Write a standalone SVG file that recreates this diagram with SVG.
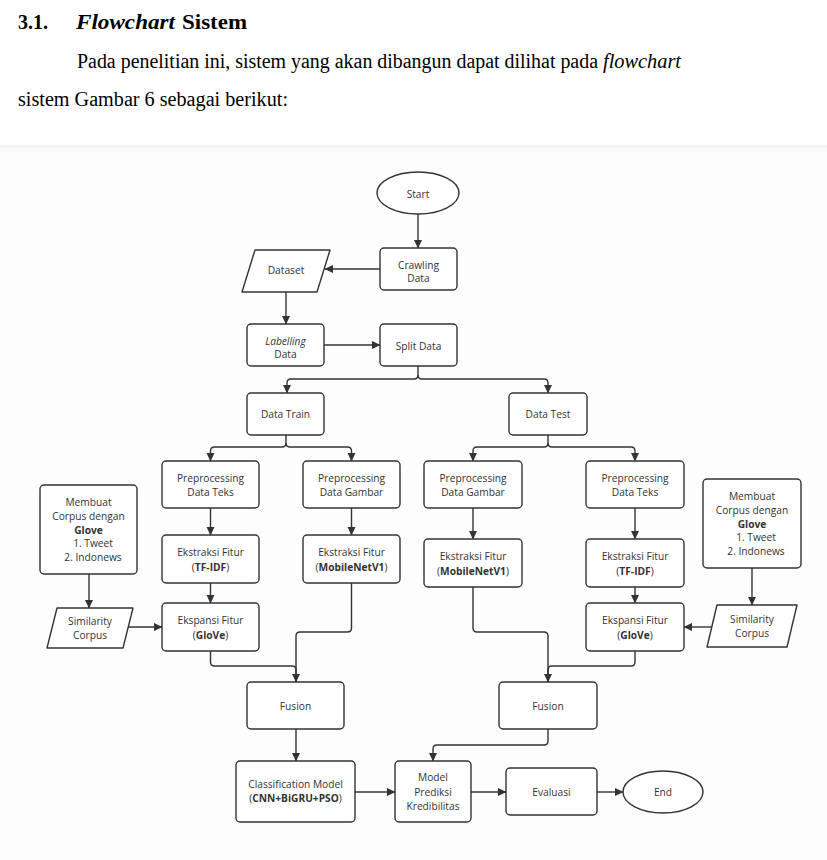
<svg xmlns="http://www.w3.org/2000/svg" width="827" height="860" viewBox="0 0 827 860">
<defs>
<marker id="ah" markerWidth="9" markerHeight="9" refX="8" refY="4.5" orient="auto" markerUnits="userSpaceOnUse">
<path d="M0,0.5 L8.5,4.5 L0,8.5 z" fill="#333"/>
</marker>
<style>
.hd{font-family:"Liberation Serif","Times New Roman",serif;fill:#000}
.b{fill:#fff;stroke:#333;stroke-width:1.4}
.t{font-family:"Open Sans","Noto Sans",sans-serif;font-size:10.2px;fill:#333;text-anchor:middle}
.bo{font-weight:bold}
.c{fill:none;stroke:#333;stroke-width:1.4;stroke-linejoin:round}
.a{marker-end:url(#ah)}
</style>
</defs>
<rect x="0" y="0" width="827" height="860" fill="#fff"/>
<rect x="0" y="147" width="827" height="713" fill="#fdfdfd"/>
<line x1="0" y1="146.5" x2="827" y2="146.5" stroke="#f0f0f0" stroke-width="2"/>

<g id="heading">
<text class="hd" x="18" y="29" font-size="22" font-weight="bold" textLength="30" lengthAdjust="spacingAndGlyphs">3.1.</text>
<text class="hd" x="76" y="29" font-size="22" font-weight="bold" font-style="italic" textLength="99" lengthAdjust="spacingAndGlyphs">Flowchart</text>
<text class="hd" x="182" y="29" font-size="22" font-weight="bold" textLength="65" lengthAdjust="spacingAndGlyphs">Sistem</text>
<text class="hd" x="77" y="68" font-size="20" textLength="521" lengthAdjust="spacingAndGlyphs">Pada penelitian ini, sistem yang akan dibangun dapat dilihat pada</text>
<text class="hd" x="603" y="68" font-size="20" font-style="italic" textLength="78" lengthAdjust="spacingAndGlyphs">flowchart</text>
<text class="hd" x="18" y="106" font-size="20" textLength="270" lengthAdjust="spacingAndGlyphs">sistem Gambar 6 sebagai berikut:</text>
</g>

<g id="connectors">
<path class="c a" d="M418,214 V248"/>
<path class="c a" d="M380,269 H325"/>
<path class="c a" d="M286,292 V324"/>
<path class="c a" d="M324,345 H380"/>
<path class="c a" d="M418,366 V375 Q418,379 414,379 H291 Q287,379 287,383 V393"/>
<path class="c a" d="M418,375 Q418,379 422,379 H544 Q548,379 548,383 V393"/>
<path class="c a" d="M286,435 V443 Q286,447 282,447 H214.5 Q210.5,447 210.5,451 V461"/>
<path class="c a" d="M286,443 Q286,447 290,447 H347.5 Q351.5,447 351.5,451 V461"/>
<path class="c a" d="M548,435 V443 Q548,447 544,447 H477 Q473,447 473,451 V461"/>
<path class="c a" d="M548,443 Q548,447 552,447 H631 Q635,447 635,451 V461"/>
<path class="c a" d="M210.5,508 V535"/>
<path class="c a" d="M210.5,583 V603"/>
<path class="c a" d="M351.5,508 V535"/>
<path class="c a" d="M473,508 V539"/>
<path class="c a" d="M635,508 V539"/>
<path class="c a" d="M635,587 V603"/>
<path class="c a" d="M89,574 V608"/>
<path class="c a" d="M128,627 H162"/>
<path class="c a" d="M752,568 V605"/>
<path class="c a" d="M712,627 H684"/>
<path class="c" d="M210.5,651 V662 Q210.5,666 214.5,666 H292 Q296,666 296,670 V682"/>
<path class="c a" d="M351.5,583 V628 Q351.5,632 347.5,632 H300 Q296,632 296,636 V682"/>
<path class="c" d="M635,651 V662 Q635,666 631,666 H552 Q548,666 548,670 V682"/>
<path class="c a" d="M473,587 V628 Q473,632 477,632 H544 Q548,632 548,636 V682"/>
<path class="c a" d="M296,729 V761"/>
<path class="c a" d="M548,729 V741 Q548,745 544,745 H437 Q433,745 433,749 V761"/>
<path class="c a" d="M355,792 H395"/>
<path class="c a" d="M471,792 H506"/>
<path class="c a" d="M597,792 H623"/>
</g>

<g id="start">
<ellipse class="b" cx="418" cy="193" rx="41" ry="21"/>
<text class="t" x="418" y="197.5">Start</text>
</g>
<g id="crawling">
<rect class="b" x="380" y="248" width="77" height="42" rx="4"/>
<text class="t" x="418.5" y="268.5">Crawling</text>
<text class="t" x="418.5" y="282">Data</text>
</g>
<g id="dataset">
<path class="b" stroke-linejoin="round" d="M255,250 H330 L317,292 H242 Z"/>
<text class="t" x="286" y="274">Dataset</text>
</g>
<g id="labelling">
<rect class="b" x="247" y="324" width="77" height="42" rx="4"/>
<text class="t" x="285.5" y="344.5" font-style="italic">Labelling</text>
<text class="t" x="285.5" y="358">Data</text>
</g>
<g id="split">
<rect class="b" x="380" y="324" width="77" height="42" rx="4"/>
<text class="t" x="418.5" y="349.5">Split Data</text>
</g>
<g id="data-train">
<rect class="b" x="247" y="393" width="77" height="42" rx="4"/>
<text class="t" x="285.5" y="418">Data Train</text>
</g>
<g id="data-test">
<rect class="b" x="509" y="393" width="78" height="42" rx="4"/>
<text class="t" x="548" y="418">Data Test</text>
</g>

<g id="pre-teks-l">
<rect class="b" x="162" y="461" width="97" height="47" rx="4"/>
<text class="t" x="210.5" y="481.5">Preprocessing</text>
<text class="t" x="210.5" y="495.5">Data Teks</text>
</g>
<g id="pre-gambar-l">
<rect class="b" x="303" y="461" width="97" height="47" rx="4"/>
<text class="t" x="351.5" y="481.5">Preprocessing</text>
<text class="t" x="351.5" y="495.5">Data Gambar</text>
</g>
<g id="corpus-l">
<rect class="b" x="40" y="485" width="97" height="89" rx="4"/>
<text class="t" x="88.5" y="505.5">Membuat</text>
<text class="t" x="88.5" y="519.5">Corpus dengan</text>
<text class="t bo" x="88.5" y="533.5">Glove</text>
<text class="t" x="93" y="547">1. Tweet</text>
<text class="t" x="93" y="561">2. Indonews</text>
</g>
<g id="tfidf-l">
<rect class="b" x="162" y="535" width="97" height="48" rx="4"/>
<text class="t" x="210.5" y="555.5">Ekstraksi Fitur</text>
<text class="t" x="210.5" y="570.5">(<tspan class="bo">TF-IDF</tspan>)</text>
</g>
<g id="mobilenet-l">
<rect class="b" x="303" y="535" width="97" height="48" rx="4"/>
<text class="t" x="351.5" y="555.5">Ekstraksi Fitur</text>
<text class="t" x="351.5" y="570.5">(<tspan class="bo">MobileNetV1</tspan>)</text>
</g>
<g id="glove-l">
<rect class="b" x="162" y="603" width="97" height="48" rx="4"/>
<text class="t" x="210.5" y="623.5">Ekspansi Fitur</text>
<text class="t" x="210.5" y="638.5">(<tspan class="bo">GloVe</tspan>)</text>
</g>
<g id="similarity-l">
<path class="b" stroke-linejoin="round" d="M57,608 H133 L123,648 H47 Z"/>
<text class="t" x="90" y="625">Similarity</text>
<text class="t" x="90" y="639">Corpus</text>
</g>

<g id="pre-gambar-r">
<rect class="b" x="424" y="461" width="98" height="47" rx="4"/>
<text class="t" x="473" y="481.5">Preprocessing</text>
<text class="t" x="473" y="495.5">Data Gambar</text>
</g>
<g id="pre-teks-r">
<rect class="b" x="586" y="461" width="98" height="47" rx="4"/>
<text class="t" x="635" y="481.5">Preprocessing</text>
<text class="t" x="635" y="495.5">Data Teks</text>
</g>
<g id="corpus-r">
<rect class="b" x="703" y="479" width="98" height="89" rx="4"/>
<text class="t" x="752" y="499.5">Membuat</text>
<text class="t" x="752" y="513.5">Corpus dengan</text>
<text class="t bo" x="752" y="527.5">Glove</text>
<text class="t" x="756" y="541">1. Tweet</text>
<text class="t" x="756" y="555">2. Indonews</text>
</g>
<g id="mobilenet-r">
<rect class="b" x="424" y="539" width="98" height="48" rx="4"/>
<text class="t" x="473" y="559.5">Ekstraksi Fitur</text>
<text class="t" x="473" y="574.5">(<tspan class="bo">MobileNetV1</tspan>)</text>
</g>
<g id="tfidf-r">
<rect class="b" x="586" y="539" width="98" height="48" rx="4"/>
<text class="t" x="635" y="559.5">Ekstraksi Fitur</text>
<text class="t" x="635" y="574.5">(<tspan class="bo">TF-IDF</tspan>)</text>
</g>
<g id="glove-r">
<rect class="b" x="586" y="603" width="98" height="48" rx="4"/>
<text class="t" x="635" y="623.5">Ekspansi Fitur</text>
<text class="t" x="635" y="638.5">(<tspan class="bo">GloVe</tspan>)</text>
</g>
<g id="similarity-r">
<path class="b" stroke-linejoin="round" d="M717,605 H797 L787,647 H707 Z"/>
<text class="t" x="752" y="623">Similarity</text>
<text class="t" x="752" y="637">Corpus</text>
</g>

<g id="fusion-l">
<rect class="b" x="247" y="682" width="97" height="47" rx="4"/>
<text class="t" x="295.5" y="709.5">Fusion</text>
</g>
<g id="fusion-r">
<rect class="b" x="499" y="682" width="98" height="47" rx="4"/>
<text class="t" x="548" y="709.5">Fusion</text>
</g>
<g id="classification">
<rect class="b" x="236" y="761" width="119" height="61" rx="4"/>
<text class="t" x="295.5" y="788">Classification Model</text>
<text class="t" x="295.5" y="802">(<tspan class="bo">CNN+BiGRU+PSO</tspan>)</text>
</g>
<g id="model">
<rect class="b" x="395" y="761" width="76" height="61" rx="4"/>
<text class="t" x="433" y="781">Model</text>
<text class="t" x="433" y="795.5">Prediksi</text>
<text class="t" x="433" y="810">Kredibilitas</text>
</g>
<g id="evaluasi">
<rect class="b" x="506" y="768" width="91" height="47" rx="4"/>
<text class="t" x="551.5" y="795.5">Evaluasi</text>
</g>
<g id="end">
<ellipse class="b" cx="663" cy="792" rx="40" ry="21"/>
<text class="t" x="663" y="796">End</text>
</g>
</svg>
